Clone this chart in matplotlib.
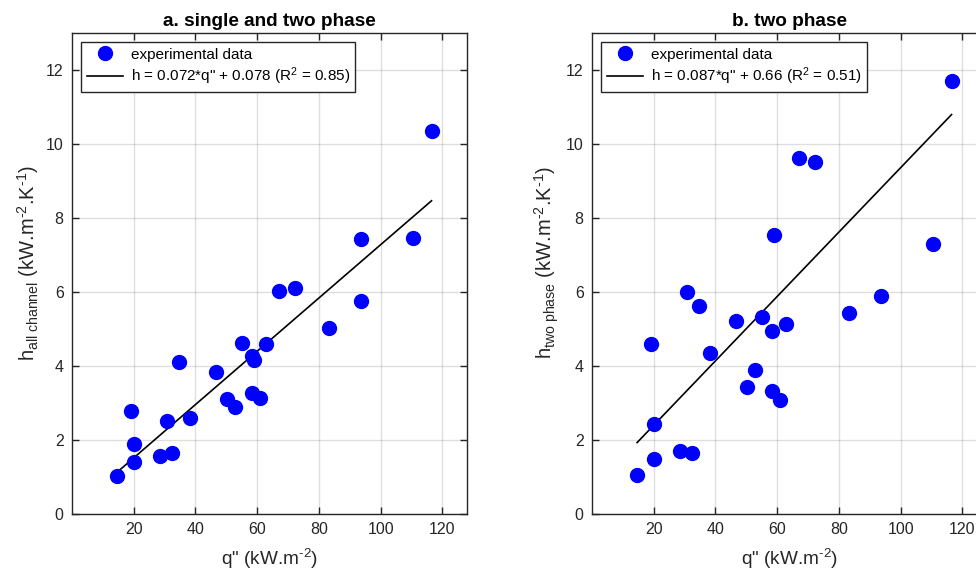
import numpy as np
import matplotlib
matplotlib.use("Agg")
import matplotlib.pyplot as plt

# panel a: single and two phase
q_all = [14.6, 20.0, 20.0, 19.1, 28.4, 32.3, 30.8, 34.6, 38.2, 46.6, 50.2, 52.9, 55.2,
         58.2, 59.1, 58.2, 61.0, 62.7, 67.2, 72.3, 83.3, 93.8, 93.8, 110.6, 116.5]
h_all = [1.02, 1.40, 1.89, 2.79, 1.58, 1.66, 2.52, 4.11, 2.60, 3.85, 3.10, 2.88, 4.63,
         4.26, 4.15, 3.28, 3.14, 4.59, 6.03, 6.10, 5.03, 5.75, 7.42, 7.45, 10.34]
fit_all = (0.072, 0.078, 0.85)

# panel b: two phase
q_two = [14.6, 20.0, 20.0, 19.1, 28.4, 32.3, 30.8, 34.6, 38.2, 46.6, 50.2, 52.9, 55.2,
         58.4, 58.2, 61.0, 62.7, 83.3, 93.8, 59.1, 67.2, 72.3, 110.6, 116.5]
h_two = [1.06, 1.49, 2.42, 4.59, 1.71, 1.66, 6.00, 5.62, 4.34, 5.23, 3.44, 3.89, 5.33,
         4.94, 3.32, 3.08, 5.14, 5.42, 5.89, 7.54, 9.62, 9.51, 7.30, 11.69]
fit_two = (0.087, 0.66, 0.51)

titles = ["a. single and two phase", "b. two phase"]
subs = ["all channel", "two phase"]
xticks = [20, 40, 60, 80, 100, 120]
yticks = [0, 2, 4, 6, 8, 10, 12]

plt.rcParams["font.family"] = ["Liberation Sans", "DejaVu Sans"]
plt.rcParams["mathtext.fontset"] = "custom"
plt.rcParams["mathtext.rm"] = "Liberation Sans"
plt.rcParams["mathtext.it"] = "Liberation Sans"

fig = plt.figure(figsize=(9.76, 5.74), dpi=100)
axc = "#262626"
panels = [(q_all, h_all, fit_all, 0.0738), (q_two, h_two, fit_two, 0.6066)]

for i, (q, h, fit, left) in enumerate(panels):
    ax = fig.add_axes([left, 0.1045, 0.4047, 0.838])
    ax.grid(True, color="#262626", alpha=0.15, linewidth=1.0)
    ax.set_axisbelow(True)
    ax.plot(q, h, "o", color="blue", markersize=10, label="experimental data", zorder=3)
    a, b, r2 = fit
    qq = np.array([min(q), max(q)])
    ax.plot(qq, a * qq + b, "-", color="black", linewidth=1.2,
            label="h = %s*q\" + %s (R$^{\\text{2}}$ = %s)" % (a, b, r2), zorder=2)
    ax.set_xlim(0, 128)
    ax.set_ylim(0, 13)
    ax.set_xticks(xticks)
    ax.set_yticks(yticks)
    ax.tick_params(direction="in", top=True, right=True, length=5, width=1.0,
                   labelsize=11.5, colors=axc, pad=6)
    for s in ax.spines.values():
        s.set_color(axc)
        s.set_linewidth(1.0)
    ax.set_title(titles[i], fontsize=13.7, fontweight="bold", pad=5)
    ax.set_xlabel("q\" (kW.m$^{\\text{-2}}$)", fontsize=13.7, color=axc, labelpad=7)
    ax.set_ylabel("h$_{\\text{%s}}$ (kW.m$^{\\text{-2}}$.K$^{\\text{-1}}$)" % subs[i],
                  fontsize=14.5, color=axc)
    ax.yaxis.set_label_coords(-0.078, 0.522)
    leg = ax.legend(loc="upper left", numpoints=1, fontsize=11, fancybox=False,
                    framealpha=1, edgecolor=axc, borderaxespad=0.6, handlelength=2.4,
                    handletextpad=0.5, borderpad=0.35, labelspacing=0.25)
    leg.get_frame().set_linewidth(1.0)

fig.savefig("out.png", dpi=100)
